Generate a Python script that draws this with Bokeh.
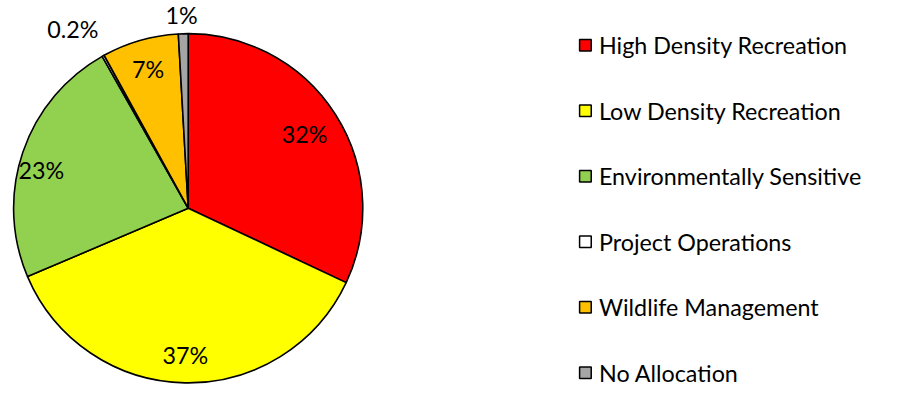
import math
from bokeh.plotting import figure
from bokeh.models import Range1d, ColumnDataSource
from bokeh.core.properties import value
from bokeh.embed import file_html
from bokeh.resources import INLINE

# ---- data ----
categories = ["High Density Recreation", "Low Density Recreation", "Environmentally Sensitive",
              "Project Operations", "Wildlife Management", "No Allocation"]
shares = [32.0, 36.6, 23.2, 0.2, 7.1, 0.9]
pct_labels = ["32%", "37%", "23%", "0.2%", "7%", "1%"]
colors = ["#FF0000", "#FFFF00", "#92D050", "#FFFFFF", "#FFC000", "#A5A5A5"]

# ---- layout (pixels) ----
W, H = 885, 389
S = 0.97  # overall scale so the whole chart fits the frame


def tx(x):
    return x * S


def ty(y):
    # screen y (from top) -> data y (from bottom)
    return H - (6 + (y - 12) * S)


cx, cy = tx(193.5), ty(220)
R = 180 * S
label_r = [0.79, 0.84, 0.87, 1.22, 0.83, 1.11]
label_da = [0.0, 0.0, -4.0, -3.6, 0.0, -0.3]
FONT = "Lato"
FSIZE = f"{24 * S:.1f}px"

p = figure(width=W, height=H, output_backend="svg", toolbar_location=None,
           x_range=Range1d(0, W), y_range=Range1d(0, H), min_border=0)
p.axis.visible = False
p.grid.visible = False
p.outline_line_color = None
p.background_fill_color = "white"
p.border_fill_color = "white"

total = sum(shares)
starts, ends, lx, ly = [], [], [], []
cum = 0.0
for i, s in enumerate(shares):
    a0 = cum / total * 2 * math.pi
    cum += s
    a1 = cum / total * 2 * math.pi
    starts.append(math.pi / 2 - a0)
    ends.append(math.pi / 2 - a1)
    mid = (a0 + a1) / 2 + math.radians(label_da[i])
    lx.append(cx + R * label_r[i] * math.sin(mid))
    ly.append(cy + R * label_r[i] * math.cos(mid))

src = ColumnDataSource(dict(start=starts, end=ends, color=colors, cat=categories,
                            lx=lx, ly=ly, lab=pct_labels))
p.wedge(x=cx, y=cy, radius=R, start_angle="start", end_angle="end", direction="clock",
        fill_color="color", line_color="black", line_width=1.6, source=src)

p.text(x="lx", y="ly", text="lab", source=src, text_font=value(FONT), text_font_size=FSIZE,
       text_color="black", text_align="center", text_baseline="middle")

# legend
leg_top = H - 44.8
leg_step = 65.5
lsrc = ColumnDataSource(dict(x=[tx(603)] * len(categories),
                             y=[leg_top - i * leg_step for i in range(len(categories))],
                             color=colors, tx=[tx(617)] * len(categories), cat=categories))
p.scatter(x="x", y="y", marker="square", size=12 * S, fill_color="color", line_color="black",
          line_width=1.5, source=lsrc)
p.text(x="tx", y="y", text="cat", source=lsrc, text_font=value(FONT), text_font_size=FSIZE,
       text_color="black", text_align="left", text_baseline="middle")

open("out.html", "w").write(file_html(p, INLINE))
